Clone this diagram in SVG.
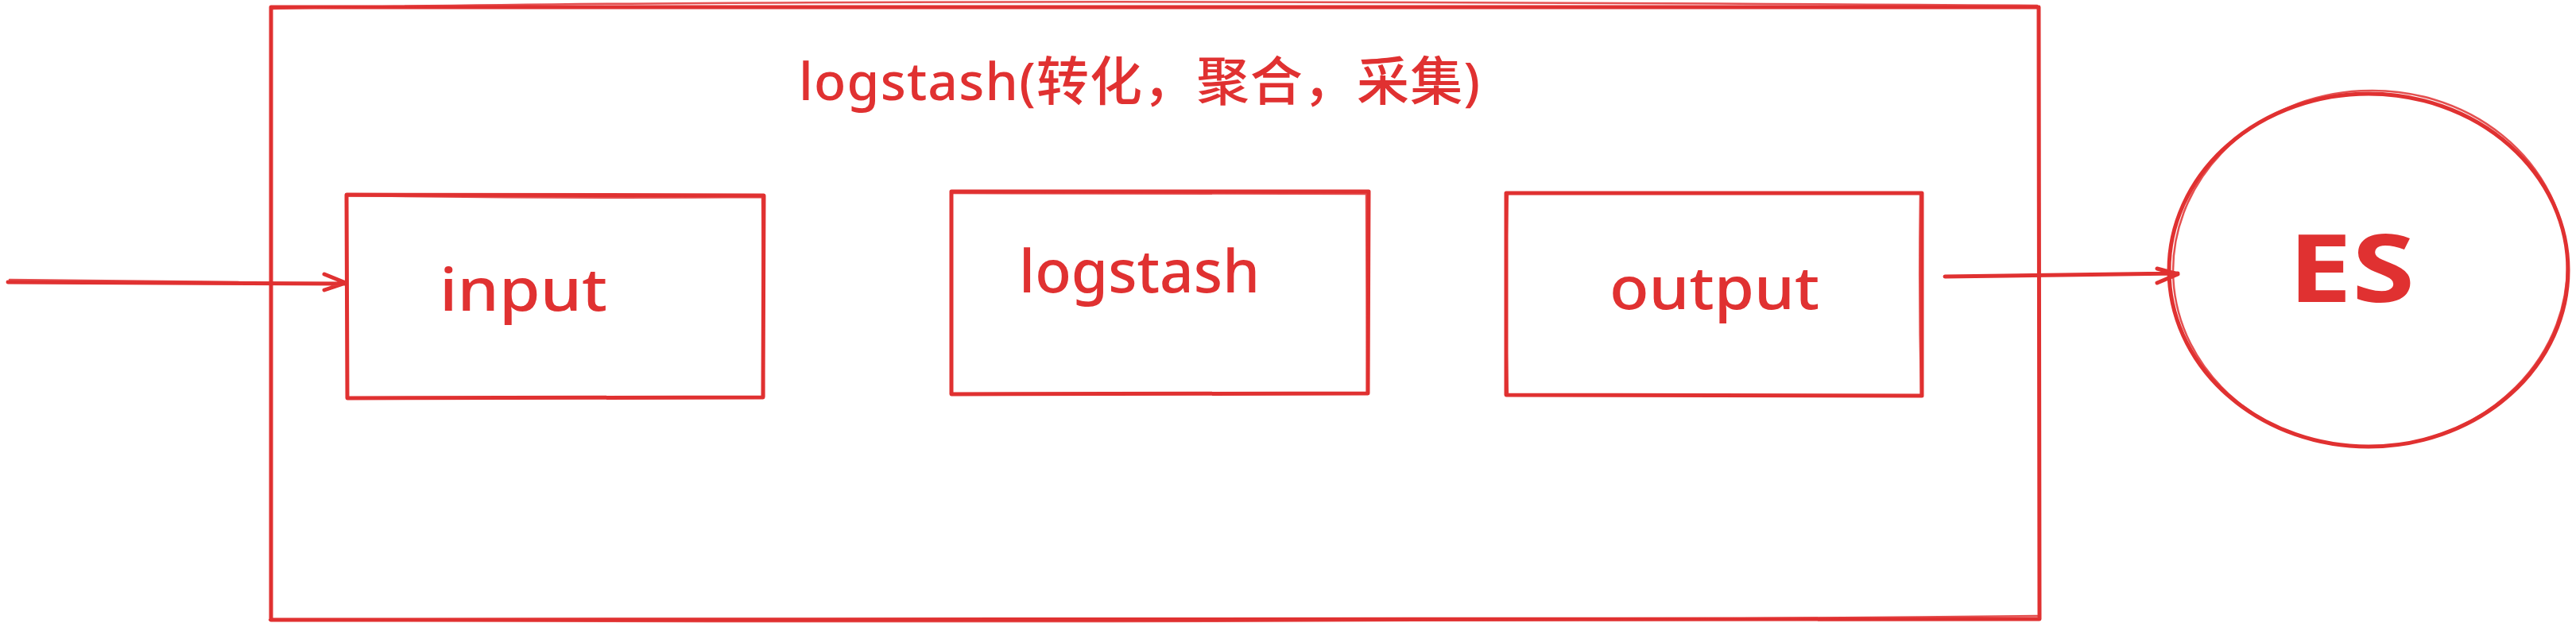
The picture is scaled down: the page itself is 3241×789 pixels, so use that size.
<svg xmlns="http://www.w3.org/2000/svg" width="3241" height="789" viewBox="0 0 3241 789">
<style>
.s{fill:none;stroke:#e03131;stroke-width:5;stroke-linecap:round;stroke-linejoin:round}
.s2{fill:none;stroke:#e03131;stroke-width:2.5;stroke-linecap:round;stroke-linejoin:round;opacity:0.85}
.t{fill:#e03131;font-family:"Noto Sans","Noto Sans CJK SC",sans-serif;font-weight:500}
</style>
<rect width="3241" height="789" fill="#ffffff"/>
<g id="logstash-container">
<path class="s" d="M341 9 L2565 9 L2566 779 L341 780 Z"/>
<path class="s2" d="M343 11 Q1000 -4 2563 7 M339 780 Q1500 786 2563 775"/>
<text class="t" x="1005" y="126" font-size="66" textLength="857" lengthAdjust="spacing">logstash(转化，聚合，采集)</text>
</g>
<g id="node-input">
<path class="s" d="M436 245 L961 246 L960 500 L437 501 Z"/>
<path class="s2" d="M438 246 Q700 250 958 248 M959 247 L961 499"/>
<text class="t" x="553" y="391" font-size="74" textLength="211" lengthAdjust="spacingAndGlyphs">input</text>
</g>
<g id="node-logstash">
<path class="s" d="M1197 241 L1722 241 L1721 495 L1197 496 Z"/>
<path class="s2" d="M1199 243 L1720 244 M1719 243 L1720 494"/>
<text class="t" x="1282" y="368" font-size="74" textLength="303" lengthAdjust="spacingAndGlyphs">logstash</text>
</g>
<g id="node-output">
<path class="s" d="M1895 243 L2418 243 L2418 498 L1895 497 Z"/>
<path class="s2" d="M1897 244 Q1893 370 1897 496 M2416 245 Q2414 370 2417 496"/>
<text class="t" x="2025" y="389" font-size="74" textLength="264" lengthAdjust="spacingAndGlyphs">output</text>
</g>
<g id="node-es">
<ellipse class="s" cx="2980" cy="340" rx="251" ry="222"/>
<ellipse class="s2" cx="2982" cy="338" rx="248" ry="224" transform="rotate(-3 2982 338)"/>
<text class="t" x="2879" y="380" font-size="118" font-weight="bold" style="font-weight:bold" textLength="159" lengthAdjust="spacingAndGlyphs">ES</text>
</g>
<g id="connectors">
<path class="s" d="M10 355 L435 357 M408 345 L435 356 L408 365"/>
<path class="s2" d="M12 352 L300 355"/>
<path class="s" d="M2447 348 L2740 344 M2714 338 L2740 345 L2714 356"/>
</g>
</svg>
